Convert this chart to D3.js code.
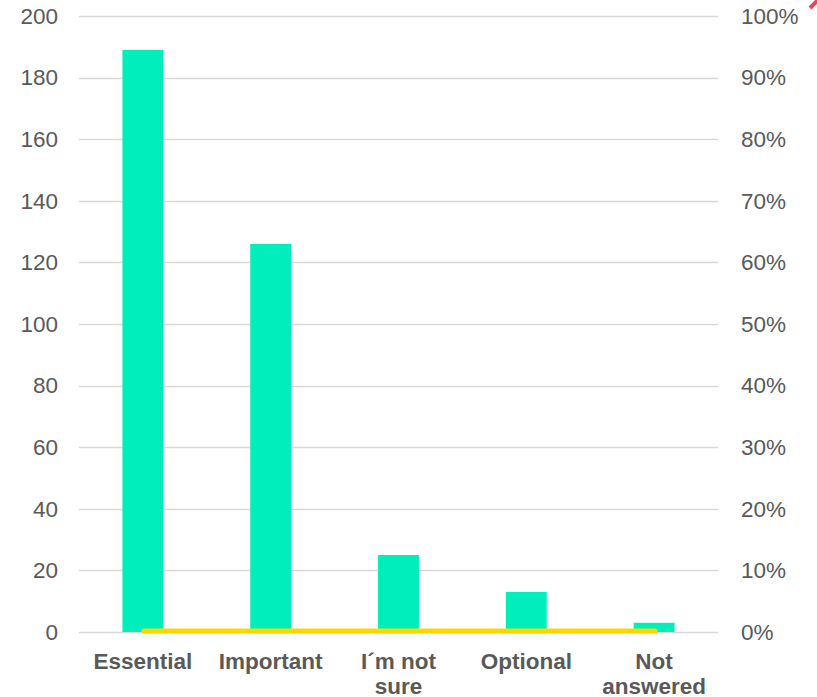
<!DOCTYPE html>
<html><head><meta charset="utf-8">
<script src="https://cdn.jsdelivr.net/npm/d3@7"></script>
<style>html,body{margin:0;padding:0;background:#fff;}</style>
</head><body>
<svg id="c" width="817" height="697"></svg>
<script>
const categories = [["Essential"], ["Important"], ["I´m not", "sure"], ["Optional"], ["Not", "answered"]];
const counts = [189, 126, 25, 13, 3];
const linePct = [0, 0, 0, 0, 0];
const leftTicks = [0, 20, 40, 60, 80, 100, 120, 140, 160, 180, 200];
const rightTicks = [0, 0.1, 0.2, 0.3, 0.4, 0.5, 0.6, 0.7, 0.8, 0.9, 1.0];

const svg = d3.select("#c");
const L = 79, R = 718, T = 16, B = 632;
const keys = categories.map((c, i) => i);
const x = d3.scaleBand().domain(keys).range([L, R]).paddingInner(0.68).paddingOuter(0.34);
const y = d3.scaleLinear().domain([0, 200]).range([B, T]);
const y2 = d3.scaleLinear().domain([0, 1]).range([B, T]);
const font = "'Liberation Sans', Arial, sans-serif";
const grey = "#595959";
const fs = 22.5;

// gridlines
svg.append("g").selectAll("line").data(leftTicks).join("line")
  .attr("x1", L).attr("x2", R)
  .attr("y1", d => Math.round(y(d)) + 0.5).attr("y2", d => Math.round(y(d)) + 0.5)
  .attr("stroke", "#d9d9d9").attr("stroke-width", 1.5);

// left axis
const la = svg.append("g").attr("transform", `translate(${L},0)`)
  .call(d3.axisLeft(y).tickValues(leftTicks).tickSize(0).tickPadding(21));
la.select(".domain").remove();
la.selectAll("text").attr("font-family", font).attr("font-size", fs).attr("fill", grey);

// right axis
const ra = svg.append("g").attr("transform", `translate(${R},0)`)
  .call(d3.axisRight(y2).tickValues(rightTicks).tickFormat(d3.format(".0%")).tickSize(0).tickPadding(23));
ra.select(".domain").remove();
ra.selectAll("text").attr("font-family", font).attr("font-size", fs).attr("fill", grey);

// bars
svg.append("g").selectAll("rect").data(counts).join("rect")
  .attr("x", (d, i) => x(i)).attr("width", x.bandwidth())
  .attr("y", d => y(d)).attr("height", d => B - y(d))
  .attr("fill", "#00EEBB");

// line series
const line = d3.line().x((d, i) => x(i) + x.bandwidth() / 2 + 1).y(d => y2(d) - 1);
svg.append("path").datum(linePct).attr("d", line)
  .attr("fill", "none").attr("stroke", "#FFD700").attr("stroke-width", 5)
  .attr("stroke-linecap", "round");

// category labels
const xl = svg.append("g");
categories.forEach((c, i) => {
  const t = xl.append("text").attr("x", x(i) + x.bandwidth() / 2).attr("y", 669)
    .attr("text-anchor", "middle").attr("font-family", font).attr("font-size", fs)
    .attr("font-weight", "bold").attr("fill", grey);
  c.forEach((s, j) => t.append("tspan").attr("x", x(i) + x.bandwidth() / 2).attr("dy", j ? 24.5 : 0).text(s));
});

// clipped red mark in the corner
svg.append("path").attr("d", d3.line()([[810, 8], [819, -1]]))
  .attr("stroke", "#F2405C").attr("stroke-width", 4).attr("fill", "none");
</script>
</body></html>
